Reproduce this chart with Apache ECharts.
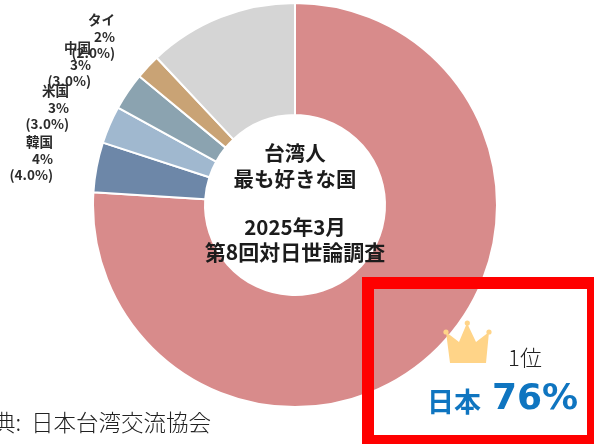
<!DOCTYPE html>
<html><head><meta charset="utf-8">
<style>html,body{margin:0;padding:0;background:#fff}#c{width:594px;height:444px}</style>
<script src="https://cdn.jsdelivr.net/npm/echarts@6/dist/echarts.min.js"></script>
</head><body><div id="c"></div>
<script>
const countries = ['日本','韓国','米国','中国','タイ','その他'];
const shares = [76,4,3,3,2,12];
const colors = ['#d88b8b','#6d87a8','#a0b8cf','#8ba3b0','#c9a375','#d5d5d5'];
const labelled = ['韓国','米国','中国','タイ'];
const labelAnchors = {'韓国':[53,134],'米国':[69,83],'中国':[91,40],'タイ':[115,12]};
const F = '"Noto Sans CJK JP","Noto Sans",sans-serif';
const chart = echarts.init(document.getElementById('c'), null, {renderer:'canvas'});
function txt(x,y,text,size,weight,fill,align,fam){
  return {type:'text',z:10,style:{x,y,text,font:`${weight} ${size}px ${fam||F}`,fill,align:align||'center',verticalAlign:'middle'}};
}
chart.setOption({
  animation:false,
  backgroundColor:'#fff',
  series:[{
    type:'pie',
    center:[295,205],
    radius:[90,202],
    startAngle:90,
    clockwise:true,
    silent:true,
    itemStyle:{borderColor:'#fff',borderWidth:2},
    labelLine:{show:false},
    data:countries.map((n,i)=>({
      name:n,value:shares[i],itemStyle:{color:colors[i]},
      label:labelled.includes(n)?{
        show:true,position:'outside',
        formatter:`{b}\n${shares[i]}%\n(${shares[i].toFixed(1)}%)`,
        align:'right',verticalAlign:'top',overflow:'none',
        fontFamily:F,fontSize:13.5,fontWeight:'bold',lineHeight:16.5,color:'#2b2b2b'
      }:{show:false}
    })),
    labelLayout:function(p){
      const a=labelAnchors[countries[p.dataIndex]];
      return a?{x:a[0],y:a[1],align:'right',verticalAlign:'top',hideOverlap:false}:{};
    }
  }],
  graphic:[
    txt(295,153,'台湾人',20.5,'bold','#1c1c1c'),
    txt(295,179,'最も好きな国',20.5,'bold','#1c1c1c'),
    txt(295,227,'2025年3月',20.5,'bold','#1c1c1c'),
    txt(295,252,'第8回対日世論調査',21,'bold','#1c1c1c'),
    txt(211,422,'出典:  日本台湾交流協会',22.5,'300','#222','right'),
    {type:'rect',z:9,shape:{x:368,y:283,width:225,height:158},style:{fill:'none',stroke:'#ff0000',lineWidth:12}},
    {type:'polygon',z:10,shape:{points:[[446,332],[459,342],[467,323],[476,342],[489,332],[486,363],[450,363]]},style:{fill:'#ffd488'}},
    {type:'circle',z:10,shape:{cx:446,cy:332,r:2.6},style:{fill:'#ffd488'}},
    {type:'circle',z:10,shape:{cx:467.3,cy:323,r:2.6},style:{fill:'#ffd488'}},
    {type:'circle',z:10,shape:{cx:489,cy:332,r:2.6},style:{fill:'#ffd488'}},
    txt(525,358,'1位',22,'300','#222'),
    txt(454,402,'日本',27,'bold','#0f75c0'),
    txt(492,400,'76%',36,'bold','#0f75c0','left','"DejaVu Sans"')
  ]
});
</script></body></html>
